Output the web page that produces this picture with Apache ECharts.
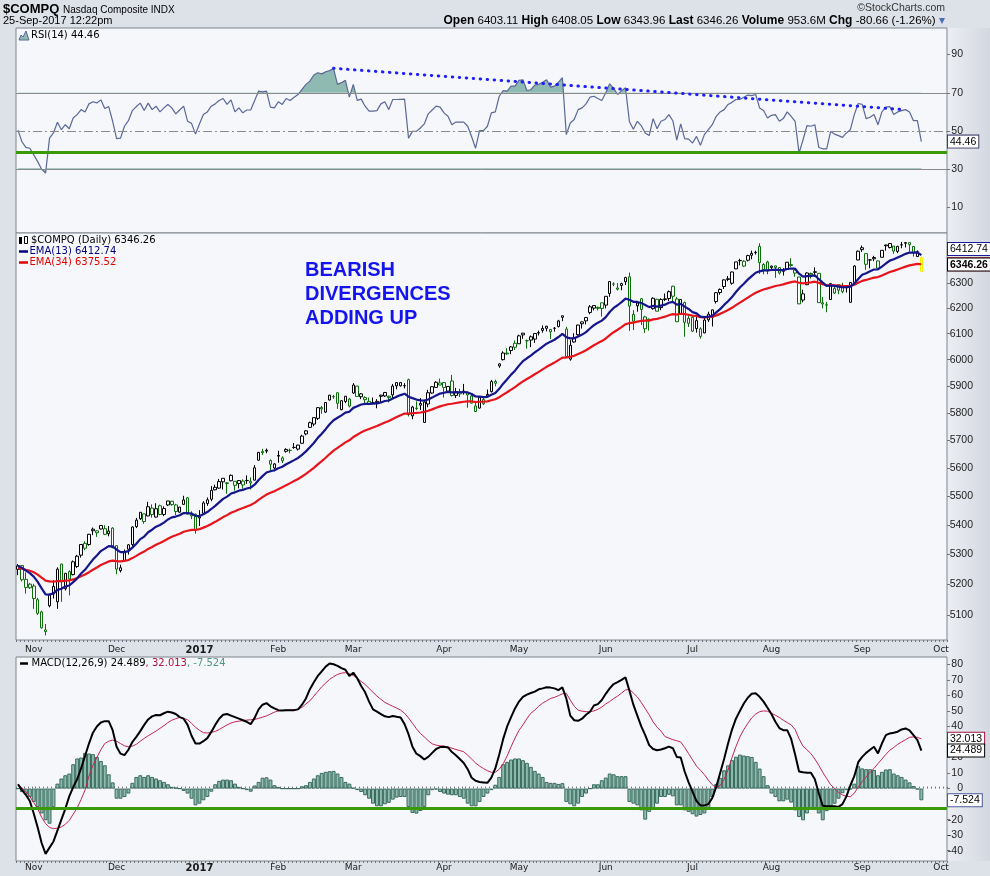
<!DOCTYPE html>
<html><head><meta charset="utf-8">
<script src="https://cdn.jsdelivr.net/npm/echarts@6/dist/echarts.min.js"></script>
<style>html,body{margin:0;padding:0;background:#dde1e8;}#c{width:990px;height:876px;}</style>
</head><body><div id="c"></div>
<script>
// ---------- categories: trading days (incl. a few blank future sessions) ----------
const tradingDays = [
 ['2016-10',[26,27,28,31]],
 ['2016-11',[1,2,3,4,7,8,9,10,11,14,15,16,17,18,21,22,23,25,28,29,30]],
 ['2016-12',[1,2,5,6,7,8,9,12,13,14,15,16,19,20,21,22,23,27,28,29,30]],
 ['2017-01',[3,4,5,6,9,10,11,12,13,17,18,19,20,23,24,25,26,27,30,31]],
 ['2017-02',[1,2,3,6,7,8,9,10,13,14,15,16,17,21,22,23,24,27,28]],
 ['2017-03',[1,2,3,6,7,8,9,10,13,14,15,16,17,20,21,22,23,24,27,28,29,30,31]],
 ['2017-04',[3,4,5,6,7,10,11,12,13,17,18,19,20,21,24,25,26,27,28]],
 ['2017-05',[1,2,3,4,5,8,9,10,11,12,15,16,17,18,19,22,23,24,25,26,30,31]],
 ['2017-06',[1,2,5,6,7,8,9,12,13,14,15,16,19,20,21,22,23,26,27,28,29,30]],
 ['2017-07',[3,5,6,7,10,11,12,13,14,17,18,19,20,21,24,25,26,27,28,31]],
 ['2017-08',[1,2,3,4,7,8,9,10,11,14,15,16,17,18,21,22,23,24,25,28,29,30,31]],
 ['2017-09',[1,5,6,7,8,11,12,13,14,15,18,19,20,21,22,25,26,27,28,29]],
 ['2017-10',[2,3]]
];
const monthNames = ['Jan','Feb','Mar','Apr','May','Jun','Jul','Aug','Sep','Oct','Nov','Dec'];

// ---------- price (OHLC) ----------
const open = [
5262,5263,5217,5201,5195,5150,5110,5052,5130,5169,
5143,5268,5186,5243,5233,5260,5298,5338,5334,5381,
5374,5387,5388,5371,5390,5330,5246,5280,5318,5334,
5395,5422,5439,5432,5459,5428,5467,5437,5470,5483,
5470,5445,5472,5495,5436,5438,5425,5441,5475,5490,
5523,5529,5551,5545,5555,5553,5545,5554,5556,5547,
5557,5628,5659,5664,5627,5600,5645,5626,5660,5663,
5674,5668,5689,5723,5747,5759,5780,5820,5803,5848,
5860,5875,5812,5842,5851,5874,5900,5860,5857,5843,
5838,5843,5866,5863,5862,5867,5913,5913,5901,5924,
5789,5816,5835,5765,5833,5874,5895,5904,5913,5881,
5919,5865,5871,5880,5875,5863,5826,5818,5834,5869,
5879,5917,5976,6000,6022,6035,6063,6061,6102,6073,
6088,6079,6104,6113,6121,6107,6121,6128,6164,6118,
6002,6068,6096,6146,6150,6183,6200,6199,6221,6212,
6258,6296,6280,6290,6305,6325,6149,6209,6237,6119,
6156,6198,6235,6202,6234,6238,6287,6236,6176,6222,
6160,6164,6120,6119,6103,6154,6164,6226,6262,6286,
6317,6299,6357,6391,6368,6392,6420,6424,6448,6353,
6385,6368,6369,6362,6347,6355,6374,6340,6324,6232,
6293,6338,6343,6339,6221,6212,6234,6260,6293,6286,
6281,6223,6302,6393,6443,6419,6393,6403,6389,6404,
6451,6444,6450,6428,6455,6464,6464,6448,6407,6403.11];
const high = [
5268,5264,5240,5205,5202,5156,5114,5071,5170,5214,
5257,5269,5237,5247,5280,5299,5334,5345,5370,5392,
5382,5399,5400,5397,5393,5330,5266,5317,5335,5396,
5425,5445,5440,5481,5472,5476,5471,5465,5484,5484,
5474,5463,5502,5497,5448,5440,5452,5483,5496,5536,
5541,5561,5564,5550,5577,5554,5556,5560,5574,5567,
5611,5657,5669,5670,5631,5617,5662,5642,5671,5670,
5690,5684,5720,5737,5768,5783,5821,5826,5839,5867,
5867,5876,5846,5862,5856,5911,5900,5874,5862,5857,
5857,5851,5867,5878,5864,5908,5913,5914,5911,5928,
5826,5843,5855,5846,5886,5899,5918,5928,5915,5900,
5942,5893,5890,5908,5876,5866,5843,5857,5857,5887,
5923,5924,5986,6032,6044,6052,6074,6096,6103,6077,
6093,6101,6112,6132,6130,6118,6126,6154,6170,6127,
6075,6102,6135,6147,6165,6212,6210,6206,6221,6247,
6306,6303,6300,6301,6325,6342,6192,6225,6240,6170,
6160,6243,6237,6239,6258,6270,6289,6244,6236,6226,
6172,6170,6166,6125,6164,6186,6194,6264,6278,6315,
6328,6346,6385,6398,6392,6414,6431,6431,6461,6380,
6390,6370,6370,6363,6360,6384,6400,6356,6325,6273,
6343,6342,6363,6340,6244,6225,6298,6286,6296,6301,
6290,6304,6372,6432,6452,6420,6397,6410,6391,6432,
6455,6460,6450,6451,6467,6464,6464,6449,6432,6408.05];
const low = [
5231,5210,5170,5185,5120,5100,5056,5034,5125,5154,
5120,5143,5180,5164,5230,5255,5290,5315,5330,5366,
5360,5385,5366,5362,5321,5234,5240,5278,5300,5326,
5390,5418,5405,5431,5426,5426,5434,5431,5466,5467,
5435,5443,5471,5437,5421,5371,5397,5441,5467,5483,
5521,5527,5524,5509,5553,5520,5528,5527,5544,5524,
5556,5627,5647,5653,5586,5588,5619,5618,5655,5653,
5669,5663,5688,5718,5745,5751,5774,5797,5800,5846,
5852,5815,5810,5836,5820,5871,5860,5851,5837,5829,
5832,5817,5839,5859,5839,5852,5888,5898,5891,5787,
5777,5810,5811,5764,5821,5871,5895,5904,5857,5874,
5861,5855,5859,5868,5819,5835,5805,5816,5829,5856,
5876,5899,5969,5997,6018,6021,6037,6060,6080,6042,
6048,6064,6093,6104,6109,6079,6108,6124,6149,6010,
5996,6065,6093,6120,6136,6176,6191,6191,6167,6199,
6245,6287,6270,6271,6292,6111,6114,6186,6134,6103,
6112,6194,6187,6192,6228,6228,6227,6146,6174,6088,
6126,6106,6104,6081,6102,6146,6128,6218,6253,6276,
6307,6293,6356,6371,6364,6387,6396,6415,6337,6335,
6335,6348,6321,6334,6330,6352,6365,6325,6216,6223,
6292,6318,6325,6221,6199,6184,6233,6256,6255,6259,
6262,6223,6302,6392,6426,6353,6359,6388,6357,6404,
6431,6440,6418,6421,6441,6444,6427,6407,6405,6343.96];
const close = [
5250.27,5215.97,5190.10,5189.13,5153.58,5105.57,5058.41,5046.37,5166.17,5193.49,
5251.07,5208.80,5237.11,5218.40,5275.62,5294.58,5333.97,5321.51,5368.86,5386.35,
5380.68,5398.92,5368.81,5379.92,5323.68,5251.11,5255.65,5308.89,5333.00,5393.76,
5417.36,5444.50,5412.54,5463.83,5436.67,5456.85,5437.16,5457.44,5483.94,5471.43,
5447.42,5462.69,5487.44,5438.56,5432.09,5383.12,5429.08,5477.00,5487.94,5521.06,
5531.82,5551.82,5563.65,5547.49,5574.12,5538.73,5555.65,5540.08,5555.33,5552.94,
5600.96,5656.34,5655.18,5660.78,5613.71,5614.79,5642.65,5636.20,5666.77,5663.55,
5674.22,5682.45,5715.18,5734.13,5763.96,5782.57,5819.44,5814.90,5838.58,5865.95,
5860.63,5835.51,5845.31,5861.90,5825.44,5904.03,5861.22,5870.75,5849.18,5833.93,
5837.55,5838.81,5861.73,5875.78,5856.82,5900.05,5900.76,5901.00,5901.53,5793.83,
5821.64,5817.69,5828.74,5840.37,5875.14,5897.55,5914.34,5911.74,5894.68,5898.61,
5864.48,5878.95,5877.81,5880.93,5866.77,5836.16,5805.15,5856.79,5849.47,5863.03,
5916.78,5910.52,5983.82,6025.49,6025.23,6048.94,6047.61,6091.60,6095.37,6072.55,
6075.34,6100.76,6102.66,6120.59,6129.14,6115.96,6121.23,6149.67,6169.87,6011.24,
6055.13,6083.70,6133.62,6138.71,6163.02,6205.26,6210.19,6203.19,6198.52,6246.83,
6305.80,6295.68,6275.06,6297.38,6321.76,6207.92,6175.47,6220.37,6194.89,6165.50,
6151.76,6239.01,6188.03,6233.95,6236.69,6265.25,6247.15,6146.62,6234.41,6144.35,
6140.42,6110.06,6150.86,6089.46,6153.08,6176.39,6193.30,6261.17,6274.44,6312.47,
6314.43,6344.31,6385.04,6390.00,6387.75,6410.81,6412.17,6422.75,6382.19,6374.68,
6348.12,6362.94,6362.65,6340.34,6351.56,6383.77,6370.46,6352.33,6216.87,6256.56,
6340.23,6333.01,6345.11,6221.91,6216.53,6213.13,6297.48,6278.41,6271.33,6265.64,
6283.02,6301.89,6368.31,6428.66,6435.33,6375.57,6393.31,6397.87,6360.19,6432.26,
6454.28,6460.19,6429.08,6448.47,6454.64,6461.32,6456.04,6422.69,6426.92,6346.26];
const ema13 = [
5262,5255.4,5246.1,5237.9,5225.9,5208.8,5187.3,5167.1,5166.9,5170.6,
5182.1,5185.9,5193.2,5196.7,5208,5220.4,5236.6,5248.8,5266,5283.1,
5297.1,5311.7,5319.9,5328.5,5327.9,5316.9,5308.2,5308.3,5311.8,5323.5,
5336.9,5352.3,5361,5375.7,5384.5,5394.9,5400.9,5408.9,5419.6,5426.9,
5429.8,5434.5,5442,5441.6,5440.2,5432,5431.6,5438.1,5445.2,5456,
5466.9,5479.1,5491.2,5499.2,5509.9,5514.1,5520.1,5522.9,5527.5,5531.1,
5541.1,5557.5,5571.4,5584.2,5588.5,5592.3,5599.5,5604.7,5613.6,5620.8,
5628.4,5636.1,5647.4,5659.8,5674.7,5690.2,5708.6,5723.8,5740.3,5758.3,
5773,5782,5791,5801.1,5804.5,5818.7,5824.7,5831.3,5833.8,5833.8,
5834.4,5835.1,5838.9,5844.2,5846,5853.7,5860.4,5866.2,5871.3,5860.3,
5854.8,5849.5,5846.6,5845.7,5849.9,5856.8,5865,5871.7,5875,5878.4,
5876.3,5876.7,5876.9,5877.5,5876,5870.3,5861,5860.4,5858.8,5859.4,
5867.6,5873.8,5889.5,5908.9,5925.5,5943.1,5958.1,5977.2,5994,6005.3,
6015.3,6027.5,6038.3,6050.1,6061.4,6069.2,6076.6,6087.1,6098.9,6086.3,
6081.8,6082.1,6089.5,6096.6,6106.1,6120.2,6133,6143,6151,6164.7,
6184.9,6200.8,6211.4,6223.6,6237.6,6233.4,6225.1,6224.4,6220.2,6212.5,
6203.9,6208.9,6205.9,6209.9,6213.8,6221.1,6224.8,6213.7,6216.6,6206.2,
6196.7,6184.3,6179.5,6166.6,6164.7,6166.3,6170.1,6183.1,6196.1,6212.7,
6227.2,6243.9,6264.1,6282.1,6297.2,6313.5,6327.6,6341.2,6347,6351,
6350.6,6352.4,6353.9,6351.9,6351.9,6356.5,6358.4,6357.5,6337.4,6325.9,
6327.9,6328.6,6330.9,6315.3,6301.3,6288.7,6289.9,6288.2,6285.7,6282.9,
6282.9,6285.6,6297.4,6316.2,6333.2,6339.3,6347,6354.3,6355.1,6366.1,
6378.7,6390.3,6395.8,6403.3,6410.7,6417.9,6423.3,6423.3,6423.8,6412.74];
const ema34 = [
5255,5252.8,5249.2,5245.8,5240.6,5232.9,5222.9,5212.8,5210.1,5209.1,
5211.5,5211.4,5212.9,5213.2,5216.8,5221.3,5227.7,5233.1,5240.9,5249.2,
5256.7,5264.8,5270.8,5277,5279.7,5278.1,5276.8,5278.6,5281.7,5288.1,
5295.5,5304,5310.2,5319,5325.7,5333.2,5339.1,5345.8,5353.7,5360.4,
5365.3,5370.9,5377.5,5381,5383.9,5383.9,5386.5,5391.7,5397.2,5404.3,
5411.6,5419.6,5427.9,5434.7,5442.7,5448.2,5454.4,5459.3,5464.8,5469.8,
5477.3,5487.5,5497.1,5506.4,5512.5,5518.3,5525.4,5531.7,5539.4,5546.5,
5553.8,5561.1,5569.9,5579.3,5589.8,5600.8,5613.3,5624.8,5637,5650.1,
5662.2,5672.1,5682,5692.3,5699.9,5711.6,5720.1,5728.7,5735.6,5741.2,
5746.7,5752,5758.3,5765,5770.3,5777.7,5784.7,5791.3,5797.6,5797.4,
5798.8,5799.9,5801.6,5803.8,5807.9,5813.1,5818.9,5824.2,5828.2,5832.2,
5834,5836.6,5839,5841.4,5842.9,5842.5,5840.4,5841.3,5841.7,5842.9,
5847.1,5850.7,5858.3,5867.8,5876.8,5886.6,5895.8,5907,5917.7,5926.6,
5935.1,5944.6,5953.6,5963.2,5972.7,5980.9,5988.9,5998.1,6007.9,6008.1,
6010.8,6015,6021.8,6028.5,6036.2,6045.8,6055.2,6063.6,6071.3,6081.3,
6094.1,6105.6,6115.3,6125.7,6136.9,6140.9,6142.8,6147.2,6149.9,6150.8,
6150.9,6155.9,6157.7,6162.1,6166.4,6172,6176.3,6174.6,6178,6176.1,
6174,6170.3,6169.2,6164.6,6163.9,6164.6,6166.2,6171.6,6177.5,6185.2,
6192.6,6201.2,6211.7,6221.9,6231.4,6241.7,6251.4,6261.2,6268.1,6274.2,
6278.4,6283.2,6287.8,6290.8,6294.3,6299.4,6303.4,6306.2,6301.1,6298.6,
6301,6302.8,6305.2,6300.4,6295.6,6290.9,6291.3,6290.5,6289.4,6288.1,
6287.8,6288.6,6293.1,6300.8,6308.5,6312.3,6316.9,6321.5,6323.7,6329.9,
6337,6344,6348.9,6354.6,6360.3,6366.1,6371.2,6374.2,6377.2,6375.52];

// ---------- RSI(14) ----------
const rsi = [
50.5,44.4,41.4,41,37.5,34,30,28,46.3,49,
54.6,50.7,53.3,51.2,56.8,58.6,61.2,60,64.2,65.3,
64.7,66.3,61.8,62.8,55.1,46,46.3,52.5,55.4,60.7,
62.8,64.6,60.7,64.6,61.2,63,60,62.1,63.9,62.1,
59,61,63,55.1,54,48.4,53.7,58.6,60,63,
64.2,66,67,63.9,66.3,60,62.1,59.5,61,61,
66,70.9,70.5,70.9,62.5,62.1,65.3,63.9,67,66,
67.7,69.1,71.8,74.4,76.1,79.3,80.5,79.9,81,81.6,
82.7,74.4,75.3,76.5,67.7,74.4,66,66.7,63,60.4,
60.4,60.7,64.2,65.3,61.2,66.5,66.5,66.6,66.7,46.3,
49.8,49.8,51.6,53.7,59,61,63,62.5,59.5,57.7,
53.3,54.7,54.7,54.7,52.5,47,41,50.2,50.2,52.5,
59.5,60,68.2,71.2,70.9,73.5,73.5,76.5,76.8,71.2,
71.6,74,74.4,75.5,76.8,73,73.5,75.5,77.9,48.1,
54.2,56,61.2,62.1,64.2,67.7,68.2,67,66,70,
74.7,72.3,69.1,71,72.6,54.9,50.9,55.1,52.8,49,
47.6,56.5,51.2,55.1,56,58.6,55.4,45.3,53.7,46,
45.8,43.7,47.2,42.5,48.1,50.7,53.3,57.7,60,61.2,
63.9,65,66.5,66.5,67.7,68.8,68.5,69.1,62.1,60.7,
56.8,58.2,58.6,55.1,56.5,60,57.7,55.1,38.4,45.3,
52.8,52.5,53.3,41.4,40.7,40.7,49.8,48.4,47.6,46.7,
49,50.7,58.6,64.4,63.9,56.5,57.2,58.6,53.3,60,
62.5,62.8,58.6,60,60.7,61.2,60,55.4,55.4,44.46];

// ---------- MACD(12,26,9) ----------
const macd = [
2.8,-1,-4,-8,-16,-25,-35,-42,-38,-34,
-27,-20,-13,-5,1,6,13,21,29,36,
40,42.5,43.4,43.4,37.6,27,22.5,21.5,25,30,
33.3,37,41,44.5,46.5,47.4,47.2,48.5,49.5,49,
48,46,45,41,34,29,29,30.5,32.5,36.5,
41,45,47.5,48,47,46,45,44,43,41.5,
45.5,51,54,55,53,51.6,50.5,50.3,50.5,50.5,
50.5,51,54,58,64,68.5,72.5,75.5,78.5,80.5,
80,79,77.5,76.5,72.5,74.6,71,66,62,56,
51,49.5,48,46.5,46,46.7,46.2,45.8,41.5,35,
27,22.5,20.9,18.7,20.4,23,25.5,26.7,26.9,26.5,
23.5,21.5,19,16.5,12.5,7,5,4.3,4,3.7,
7,13,22,32,40,46,51.6,56,59,60.5,
61.5,62.4,63.9,64.5,65.2,65,64.5,63.4,65.2,58,
47,44,43.6,45,47.5,49.5,53.5,54.4,57,61,
64.5,67.3,68.5,70,71.6,63,54,47,40,34.4,
28,25.5,24.7,25.2,26,27,26,20.4,20,11,
4,-2,-8,-10.8,-10.8,-10,-6,1.1,10,19,
29,38,45,50,54.8,58.5,61,61.3,59.1,56,
52,48,43,39,37.6,37.6,32,22,11,10.5,
10.2,10.2,6,-3,-11,-11.3,-11.3,-11.3,-11.8,-10,
-5,2,8,17,20.4,23,25,26.9,22.6,29,
34.4,35.5,36,36.6,38.1,38.7,37.5,34.4,31.2,24.489];
const signal = [
2.8,0.5,-2,-5,-9,-13,-18.5,-22.5,-25,-25.8,
-25.5,-24.7,-23,-20.4,-16.5,-12.5,-7,-1,8,15,
20,25,29,30.5,31.2,30.5,29,27.5,27,27.3,
28.5,30.5,32.3,34,35.5,37,38.8,40.5,42.5,44,
45,45.8,45.2,44.3,42,39.5,37.5,36,35.8,36.2,
36.8,38,39.5,41,42.2,43,43.4,43.8,44.1,44.3,
44.5,45.2,46,46.8,48,49.2,50,50.3,50.5,50.5,
50.6,51,52.3,54.5,56.5,59.5,62.5,65.5,68,70.3,
72,73.5,74.3,74.6,74,72.8,71,69,67,64.5,
62,59.5,57.5,55.5,54.2,53,51.8,50.5,48.5,45.5,
42,38.5,35.5,33.3,30.8,28.8,28,27.5,27.3,26.8,
26,25.2,24.5,23.7,21.5,19,16.5,14.5,12.9,11.5,
10.5,10.5,12.5,16,21,27,32.5,37.5,41,45,
48.5,50.5,53,55,56.5,58,58.7,59.8,61,61.3,
57,53,50.5,49.8,49.5,49.5,50,51,52.5,54.5,
56,58,59.5,61.5,63.5,63.9,61.5,59,55.5,51.5,
47.5,43,39.5,37,33.5,32.5,31.5,30.8,30,26.5,
22.5,18.5,14.5,11.8,9,5.5,2.5,0.6,2,6,
12,20,27,33.3,38,42,45.5,48,49.5,50,
49.8,48.5,47.2,45.8,44,42.5,41,38,32,27.3,
25,22.5,19,15,10.5,6.5,2.5,0.2,-2.5,-4.1,
-5,-5.2,-3,1,4.5,7.5,10.5,13,16.1,19,
22,24.7,26.5,28.5,30,31.5,33,33.3,33,32.013];
const hist = [
0,-2.2,-3.7,-5.4,-8.6,-11.8,-16,-20.4,-22.6,-12,
3.2,6.5,8.6,9.7,15.7,19.4,20,23,22.6,22.2,
20.4,17.8,15,9.2,4,-6.5,-6.5,-5.4,-3.2,3.7,
7.5,8.6,7.5,8.6,7.5,6.5,5.4,4.3,2.8,1.1,
0.6,0,-1.5,-3.2,-6.5,-10.8,-9.7,-7.5,-5.4,-2,
2.8,5,5.8,5.8,5.4,3.2,1.1,0,-1,-2,
2,4.3,7,7.3,5.8,2.2,1.1,0,0,0,
0,0,1.5,2.2,4.3,6.5,8.6,10.1,10.8,11.2,
11.4,9.7,7.5,4.3,3.2,0.5,-1,-2.2,-4.3,-6.5,
-9.7,-11.4,-11.4,-10.1,-9.2,-7.1,-5.8,-5.4,-5.4,-11.8,
-15.7,-16.1,-14.4,-11.8,-4.3,-1,-0.6,-2.2,-3.2,-3.9,
-4.3,-4.3,-5.4,-6.5,-9.7,-11.4,-11.4,-8.6,-5.4,-3.2,
-1,2.5,7.5,15.7,17.2,18.7,19.4,19.4,18.3,16.6,
14,11.4,9.7,7.5,4.3,3.7,3.7,3,3.5,-8.6,
-10.1,-11.4,-9.7,-5.4,-3.2,0,2.8,2.8,5.4,7.1,
9.7,9.2,8,8,8,-8.6,-9.7,-10.8,-14,-20,
-15,-12.9,-9.7,-5.4,-5.4,-4,-5,-10.8,-10.8,-14,
-15,-16.5,-18,-17,-16,-13,-5.4,3,7,11.8,
15,18.3,20.5,21.9,21.3,20.9,20.4,17.2,12.9,8,
2.2,-3.2,-5.4,-8.2,-8.2,-7.1,-9,-14,-18.3,-20.4,
-16,-12.9,-13,-16,-20.4,-14.5,-11.4,-9.7,-6.5,-3,
-1,-0.5,3.2,14.4,13,12.5,12.5,12,8.6,10.8,
12.3,12.5,9.7,8.6,7.5,5.8,4,1.7,-0.5,-7.524];

// ---------- tick labels & reference levels ----------
const rsiTicks = [10,30,50,70,90];
const priceTicks = [5100,5200,5300,5400,5500,5600,5700,5800,5900,6000,6100,6200,6300];
const macdTicks = [-40,-30,-20,-10,0,10,20,30,40,50,60,70,80];
const rsiTrend = [[80,82.8],[224,61.3]];   // [day index, RSI]
const last = {rsi:'44.46', close:'6346.26', ema13:'6412.74', ema34:'6375.52', macd:'24.489', signal:'32.013', hist:'-7.524'};

// ---------- build ----------
const dates = tradingDays.flatMap(([m, ds]) => ds.map(d => m + '-' + (d < 10 ? '0' + d : d)));
const monthStart = new Set();
dates.forEach((d, k) => { if (k > 0 && d.slice(0, 7) !== dates[k - 1].slice(0, 7)) monthStart.add(k); });
const monthLabel = v => { const mo = +v.slice(5, 7); return mo === 1 ? '{y|' + v.slice(0, 4) + '}' : monthNames[mo - 1]; };
const L = Math.log;

const F = "'DejaVu Sans', Verdana, sans-serif";
const FA = "'Liberation Sans', Arial, sans-serif";
const GREEN = '#0b6e0b';

const candleData = close.map((c, k) => {
  const prev = k ? close[k - 1] : c;
  const col = c >= prev ? '#000000' : GREEN;
  const isLast = k === close.length - 1;
  return {
    value: [L(open[k]), L(c), L(low[k]), L(high[k])],
    itemStyle: { color: '#ffffff', color0: col, borderColor: isLast ? '#f2f200' : col,
                 borderColor0: isLast ? '#f2f200' : col, borderWidth: 1 }
  };
});

const rsiTop = 28, rsiH = 205, rsiMin = -3.35, rsiMax = 103.9;
const rsiPx = rsiH / (rsiMax - rsiMin);
const y70 = rsiTop + (rsiMax - 70) * rsiPx;
const y30 = rsiTop + (rsiMax - 30) * rsiPx;
const pMin = L(5019.5), pMax = L(6503.7);
const mMin = -46.6, mMax = 84.7;

const gridBase = { left: 16, width: 931, show: true, backgroundColor: '#f5f7fb', borderColor: '#7f848e', borderWidth: 1 };
const hiddenX = gi => ({ type: 'category', gridIndex: gi, data: dates, show: false });
const bandX = (gi, pos, showLabel, margin) => ({
  type: 'category', gridIndex: gi, position: pos, data: dates,
  axisLine: { show: false },
  axisTick: { show: true, interval: 0, length: 2, lineStyle: { color: '#70747d', width: 1 } },
  axisLabel: { show: showLabel, interval: i => monthStart.has(i), formatter: monthLabel,
    fontFamily: F, fontSize: 9, color: '#1a1a1a', margin: margin,
    rich: { y: { fontWeight: 'bold', fontSize: 10, fontFamily: F, color: '#1a1a1a' } } },
  splitLine: { show: false }
});
const tag = (txt, bc, bold) => ({
  show: true, position: 'end', distance: 1, formatter: txt, color: '#000', opacity: 1,
  backgroundColor: '#ffffff', borderColor: bc, borderWidth: 1, padding: [1, 2, 0, 2],
  fontFamily: FA, fontSize: 10.5, fontWeight: bold ? 'bold' : 'normal'
});
const refLine = (v, style, label) => ({ yAxis: v, lineStyle: style, label: label || { show: false } });
const hideLine = { color: 'rgba(0,0,0,0)', width: 1, type: 'solid' };
const tagLine = (v, lbl) => ({ silent: true, symbol: 'none', animation: false, data: [refLine(v, hideLine, lbl)] });

const option = {
  animation: false,
  backgroundColor: '#dde1e8',
  grid: [
    Object.assign({}, gridBase, { top: rsiTop, height: rsiH }),
    { left: 16, width: 931, top: rsiTop, height: y70 - rsiTop, show: false },
    { left: 16, width: 931, top: y30, height: rsiTop + rsiH - y30, show: false },
    Object.assign({}, gridBase, { top: 233, height: 407 }),
    Object.assign({}, gridBase, { top: 657, height: 204 })
  ],
  xAxis: [hiddenX(0), hiddenX(1), hiddenX(2), bandX(3, 'bottom', true, 5), bandX(4, 'top', false, 2), bandX(4, 'bottom', true, 2)],
  yAxis: [
    { type: 'value', gridIndex: 0, position: 'right', min: rsiMin, max: rsiMax, splitLine: { show: false }, axisLine: { show: false },
      axisTick: { show: true, customValues: rsiTicks, length: 3, lineStyle: { color: '#70747d' } },
      axisLabel: { customValues: rsiTicks, align: 'right', margin: 16, fontFamily: FA, fontSize: 10.5, color: '#222' } },
    { type: 'value', gridIndex: 1, min: 70, max: rsiMax, show: false },
    { type: 'value', gridIndex: 2, min: rsiMin, max: 30, show: false },
    { type: 'value', gridIndex: 3, position: 'right', min: pMin, max: pMax, splitLine: { show: false }, axisLine: { show: false },
      axisTick: { show: true, customValues: priceTicks.map(L), length: 3, lineStyle: { color: '#70747d' } },
      axisLabel: { customValues: priceTicks.map(L), formatter: v => String(Math.round(Math.exp(v))), align: 'right', margin: 26,
        fontFamily: FA, fontSize: 10.5, color: '#222' } },
    { type: 'value', gridIndex: 4, position: 'right', min: mMin, max: mMax, splitLine: { show: false }, axisLine: { show: false },
      axisTick: { show: true, customValues: macdTicks, length: 3, lineStyle: { color: '#70747d' } },
      axisLabel: { customValues: macdTicks, align: 'right', margin: 16, fontFamily: FA, fontSize: 10.5, color: '#222' } }
  ],
  series: [
    { type: 'line', xAxisIndex: 1, yAxisIndex: 1, data: rsi, symbol: 'none', silent: true, z: 1,
      lineStyle: { opacity: 0 }, areaStyle: { color: '#8fbab1', opacity: 1, origin: 'start' } },
    { type: 'line', xAxisIndex: 2, yAxisIndex: 2, data: rsi, symbol: 'none', silent: true, z: 1,
      lineStyle: { opacity: 0 }, areaStyle: { color: '#8fbab1', opacity: 1, origin: 'end' } },
    { name: 'RSI', type: 'line', xAxisIndex: 0, yAxisIndex: 0, data: rsi, symbol: 'none', z: 3,
      lineStyle: { color: '#5a6896', width: 1.2 },
      markLine: { silent: true, symbol: 'none', animation: false, label: { show: false },
        data: [
          refLine(70, { color: '#8a8a8a', width: 1, type: 'solid' }),
          refLine(30, { color: '#8a8a8a', width: 1, type: 'solid' }),
          refLine(50, { color: '#8a8a8a', width: 1, type: [9, 3, 2, 3] }),
          refLine(39, { color: '#3a9a0a', width: 3, type: 'solid' }),
          [ { coord: [dates[rsiTrend[0][0]], rsiTrend[0][1]], lineStyle: { color: '#1e1eff', width: 3, type: [0.5, 6.5], cap: 'round' } },
            { coord: [dates[rsiTrend[1][0]], rsiTrend[1][1]] } ],
          refLine(+last.rsi, hideLine, tag(last.rsi, '#3b3b6b', false))
        ] } },
    { name: 'EMA34', type: 'line', xAxisIndex: 3, yAxisIndex: 3, data: ema34.map(L), symbol: 'none', z: 3,
      lineStyle: { color: '#e8141b', width: 2.2 } },
    { name: 'EMA13', type: 'line', xAxisIndex: 3, yAxisIndex: 3, data: ema13.map(L), symbol: 'none', z: 3,
      lineStyle: { color: '#15158c', width: 2.2 },
      markLine: tagLine(L(+last.ema13), tag(last.ema13, '#1a1a9a', false)) },
    { name: 'COMPQ', type: 'candlestick', xAxisIndex: 3, yAxisIndex: 3, data: candleData, barWidth: 3, z: 2,
      markLine: tagLine(L(+last.close), tag(last.close, '#000000', true)) },
    { name: 'Hist', type: 'bar', xAxisIndex: 5, yAxisIndex: 4, data: hist, barCategoryGap: '0%', z: 2,
      itemStyle: { color: '#8dbcae', borderColor: '#3a6a5c', borderWidth: 1 } },
    { name: 'Signal', type: 'line', xAxisIndex: 5, yAxisIndex: 4, data: signal, symbol: 'none', z: 3,
      lineStyle: { color: '#c42454', width: 1 } },
    { name: 'MACD', type: 'line', xAxisIndex: 5, yAxisIndex: 4, data: macd, symbol: 'none', z: 4,
      lineStyle: { color: '#000000', width: 2 },
      markLine: { silent: true, symbol: 'none', animation: false, label: { show: false },
        data: [
          refLine(-12.7, { color: '#3a9a0a', width: 3, type: 'solid' }),
          refLine(+last.signal, hideLine, tag(last.signal, '#a0143c', false)),
          refLine(+last.macd, hideLine, tag(last.macd, '#000000', false)),
          refLine(+last.hist, hideLine, tag(last.hist, '#4a5a9a', false))
        ] } }
  ],
  graphic: { elements: [
    { type: 'rect', z: -1, silent: true, shape: { x: 947, y: 28, width: 43, height: 833 },
      style: { fill: new echarts.graphic.LinearGradient(0, 0, 1, 0, [{ offset: 0, color: '#eceef3' }, { offset: 1, color: '#d3d7e0' }]) } },
    // header
    { type: 'text', x: 3, y: 9, style: { text: '$COMPQ', fill: '#000', fontFamily: FA, fontSize: 13, fontWeight: 'bold', verticalAlign: 'middle' } },
    { type: 'text', x: 63, y: 10, style: { text: 'Nasdaq Composite INDX', fill: '#000', fontFamily: FA, fontSize: 10, verticalAlign: 'middle' } },
    { type: 'text', x: 3, y: 21, style: { text: '25-Sep-2017 12:22pm', fill: '#000', fontFamily: FA, fontSize: 11, verticalAlign: 'middle' } },
    { type: 'text', x: 945, y: 8, style: { text: '\u00A9StockCharts.com', fill: '#333', fontFamily: FA, fontSize: 10.5, align: 'right', verticalAlign: 'middle' } },
    { type: 'text', x: 945, y: 21, style: {
        text: '{b|Open} {n|6403.11} {b|High} {n|6408.05} {b|Low} {n|6343.96} {b|Last} {n|6346.26} {b|Volume} {n|953.6M} {b|Chg} {n|-80.66 (-1.26%)} {t|\u25BE}',
        fill: '#000', fontFamily: FA, fontSize: 12, align: 'right', verticalAlign: 'middle',
        rich: { b: { fontWeight: 'bold', fontFamily: FA, fontSize: 12, fill: '#000' },
                n: { fontFamily: FA, fontSize: 11.5, fill: '#000' },
                t: { fontFamily: FA, fontSize: 12, fill: '#4a6fb5' } } } },
    // RSI legend
    { type: 'polygon', shape: { points: [[19, 40], [21, 35], [23, 37], [26, 31], [29, 40]] }, style: { fill: '#8fbab1', stroke: '#5a6896', lineWidth: 1 } },
    { type: 'text', x: 31, y: 35.5, style: { text: 'RSI(14) ' + last.rsi, fill: '#000', fontFamily: F, fontSize: 10, verticalAlign: 'middle' } },
    // price legend
    { type: 'rect', shape: { x: 19, y: 237, width: 3, height: 7 }, style: { fill: '#000' } },
    { type: 'rect', shape: { x: 24.5, y: 236.5, width: 3, height: 7 }, style: { fill: '#fff', stroke: '#000', lineWidth: 1 } },
    { type: 'text', x: 31, y: 240.7, style: { text: '$COMPQ (Daily) ' + last.close, fill: '#000', fontFamily: F, fontSize: 10, verticalAlign: 'middle' } },
    { type: 'line', shape: { x1: 19, y1: 251.5, x2: 28, y2: 251.5 }, style: { stroke: '#000080', lineWidth: 2.5 } },
    { type: 'text', x: 29.5, y: 251.5, style: { text: 'EMA(13) ' + last.ema13, fill: '#000080', fontFamily: F, fontSize: 10, verticalAlign: 'middle' } },
    { type: 'line', shape: { x1: 19, y1: 262.5, x2: 28, y2: 262.5 }, style: { stroke: '#e00000', lineWidth: 2.5 } },
    { type: 'text', x: 29.5, y: 262.5, style: { text: 'EMA(34) ' + last.ema34, fill: '#e00000', fontFamily: F, fontSize: 10, verticalAlign: 'middle' } },
    // annotation
    { type: 'text', x: 305, y: 258, style: { text: 'BEARISH\nDIVERGENCES\nADDING UP', fill: '#1414ee', fontFamily: FA, fontSize: 20,
        fontWeight: 'bold', lineHeight: 24, verticalAlign: 'top' } },
    // MACD legend
    { type: 'line', shape: { x1: 20, y1: 663.5, x2: 28, y2: 663.5 }, style: { stroke: '#000', lineWidth: 2.5 } },
    { type: 'text', x: 31.5, y: 663.5, style: {
        text: '{k|MACD(12,26,9) ' + last.macd + '}{r|, ' + last.signal + '}{g|, ' + last.hist + '}',
        fontFamily: F, fontSize: 10, verticalAlign: 'middle',
        rich: { k: { fill: '#000', fontFamily: F, fontSize: 10 }, r: { fill: '#b01540', fontFamily: F, fontSize: 10 },
                g: { fill: '#4f9a88', fontFamily: F, fontSize: 10 } } } }
  ] }
};

const chart = echarts.init(document.getElementById('c'), null, { renderer: 'canvas' });
chart.setOption(option);

// EMA(34) value tag: placed at its value through the price axis scale, sitting beneath the neighbouring tags
const ema34Y = chart.convertToPixel({ yAxisIndex: 3 }, L(+last.ema34));
const gridRight = 16 + 931;
chart.setOption({ graphic: { elements: option.graphic.elements.concat([
  { type: 'text', x: gridRight + 1, y: ema34Y, z: 0, silent: true,
    style: { text: last.ema34, fill: '#000', fontFamily: FA, fontSize: 10.5, verticalAlign: 'middle',
      backgroundColor: '#ffffff', borderColor: '#e0141a', borderWidth: 1, padding: [1, 2, 0, 2] } }
]) } });
</script>
</body></html>
